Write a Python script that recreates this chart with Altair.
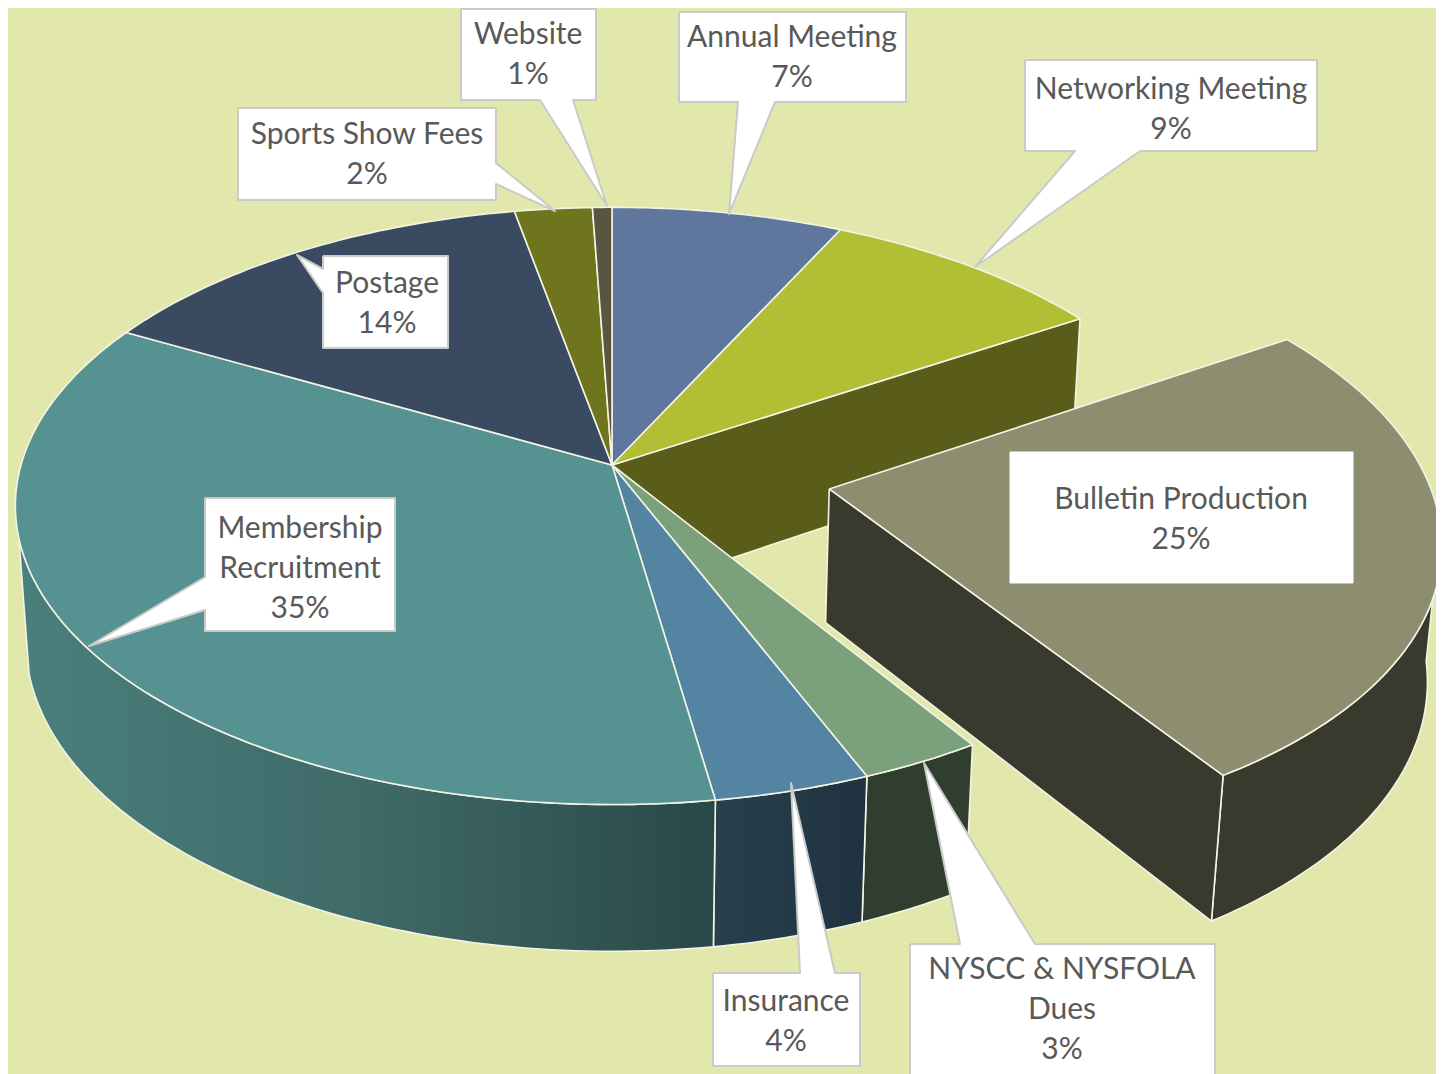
import math
import altair as alt
import pandas as pd

# ---- chart values ----
names = ["Annual Meeting", "Networking Meeting", "Bulletin Production", "NYSCC & NYSFOLA Dues",
         "Insurance", "Membership Recruitment", "Postage", "Sports Show Fees", "Website"]
shares = [7.1, 8.9, 25.0, 2.9, 3.7, 35.4, 14.0, 2.4, 0.6]
percent_labels = ["7%", "9%", "25%", "3%", "4%", "35%", "14%", "2%", "1%"]
pulled_out = [0, 0, 0.37, 0, 0, 0, 0, 0, 0]

# ---- styles ----
top_colors = ["#5F779C", "#B2BE34", "#8D8D70", "#7BA07C", "#5385A3", "#569291", "#3A4A60", "#6F751C", "#5A5540"]
wall_colors = {1: "#5A5C1A", 2: "#3A392E", 3: "#2F3E2E"}
BG = "#E2E8AC"
TEXT = "#595959"
EDGE = "#F2F4E4"

# ---- projection of the tilted pie ----
CX, CY, A, A_LEFT, B, K, M, D = 612, 465, 595, 591, 293, 0.137, 0.017, 135
MEMBERSHIP_WALL_END = 256   # last rim angle of the wall that faces the viewer
BULLETIN_WALL_START = 97    # first rim angle of the wall that faces the viewer


def project(u, v, z=0.0):
    w = 1 + K * v + M * z
    return CX + (A if u >= 0 else A_LEFT) * u / w, CY + (-B * v + D * z) / w


def rim(i, a0, a1, z, steps=None):
    off = pulled_out[i]
    mid = math.radians((angles[i][0] + angles[i][1]) / 2)
    ou, ov = off * math.sin(mid), off * math.cos(mid)
    n = steps or max(2, int(a1 - a0) + 2)
    pts = []
    for s in range(n + 1):
        t = math.radians(a0 + (a1 - a0) * s / n)
        pts.append(project(ou + math.sin(t), ov + math.cos(t), z))
    return pts


def apex(i, z):
    off = pulled_out[i]
    mid = math.radians((angles[i][0] + angles[i][1]) / 2)
    return project(off * math.sin(mid), off * math.cos(mid), z)


X = alt.X("x:Q", scale=alt.Scale(domain=[8, 1436], nice=False, zero=False), axis=None)
Y = alt.Y("y:Q", scale=alt.Scale(domain=[1074, 8], nice=False, zero=False), axis=None)


def poly(pts, fill, stroke=EDGE, sw=1.6):
    pts = list(pts) + [pts[0]]
    df = pd.DataFrame({"x": [p[0] for p in pts], "y": [p[1] for p in pts], "i": range(len(pts))})
    return alt.Chart(df).mark_line(filled=True, fill=fill, stroke=stroke, strokeWidth=sw,
                                   strokeJoin="round", clip=True).encode(
        x=X, y=Y, order=alt.Order("i:Q"))


angles = []
c = 0.0
for s in shares:
    angles.append((c * 3.6, (c + s) * 3.6))
    c += s

layers = []
# inner wall facing the gap left by the pulled-out slice
a1 = angles[1][1]
layers.append(poly([apex(1, 0), rim(1, a1, a1, 0, 1)[0], rim(1, a1, a1, 1, 1)[0], apex(1, 1)], wall_colors[1]))

# outer walls of the main body
a0, a1 = angles[3]
layers.append(poly(rim(3, a0, a1, 0) + rim(3, a0, a1, 1)[::-1], wall_colors[3]))
a0, a1 = angles[4]
layers.append(poly(rim(4, a0, a1, 0) + rim(4, a0, a1, 1)[::-1], alt.Gradient(
    gradient="linear", x1=0, x2=1, y1=0, y2=0,
    stops=[alt.GradientStop(color="#27414F", offset=0), alt.GradientStop(color="#20323F", offset=1)])))
a0 = angles[5][0]
layers.append(poly(rim(5, a0, MEMBERSHIP_WALL_END, 0) + rim(5, a0, MEMBERSHIP_WALL_END, 1)[::-1], alt.Gradient(
    gradient="linear", x1=0, x2=1, y1=0, y2=0,
    stops=[alt.GradientStop(color="#4A7F7C", offset=0),
           alt.GradientStop(color="#3F6A68", offset=0.5),
           alt.GradientStop(color="#294847", offset=1)])))

# pulled-out slice walls
a1 = angles[2][1]
layers.append(poly(rim(2, BULLETIN_WALL_START, a1, 0) + rim(2, BULLETIN_WALL_START, a1, 1)[::-1], wall_colors[2]))
layers.append(poly([apex(2, 0), rim(2, a1, a1, 0, 1)[0], rim(2, a1, a1, 1, 1)[0], apex(2, 1)], wall_colors[2]))

# top faces
for i, (a0, a1) in enumerate(angles):
    layers.append(poly([apex(i, 0)] + rim(i, a0, a1, 0), top_colors[i]))

# ---- callouts (outline with pointer) ----
BORDER = "#C9CBC9"
callouts = [
    [(461, 9), (596, 9), (596, 100), (573, 100), (607, 206), (540, 100), (461, 100)],
    [(679, 12), (906, 12), (906, 102), (775, 102), (729, 214), (738, 102), (679, 102)],
    [(1025, 60), (1317, 60), (1317, 151), (1140, 151), (975, 267), (1075, 151), (1025, 151)],
    [(238, 108), (496, 108), (496, 163), (555, 211), (496, 184), (496, 200), (238, 200)],
    [(323, 256), (448, 256), (448, 348), (323, 348), (323, 293), (297, 255), (323, 269)],
    [(205, 498), (395, 498), (395, 631), (205, 631), (205, 610), (89, 646), (205, 577)],
    [(713, 973), (800, 973), (791, 783), (835, 973), (860, 973), (860, 1066), (713, 1066)],
    [(910, 944), (960, 944), (924, 763), (1035, 944), (1215, 944), (1215, 1090), (910, 1090)],
]
for c_pts in callouts:
    layers.append(poly(c_pts, "#FFFFFF", stroke=BORDER, sw=2))
layers.append(poly([(1010, 452), (1353, 452), (1353, 583), (1010, 583)], "#FFFFFF", stroke="#FFFFFF", sw=1))

# ---- label text ----
label_lines = {
    "Website": ["Website"], "Annual Meeting": ["Annual Meeting"], "Networking Meeting": ["Networking Meeting"],
    "Sports Show Fees": ["Sports Show Fees"], "Postage": ["Postage"], "Bulletin Production": ["Bulletin Production"],
    "Membership Recruitment": ["Membership", "Recruitment"], "Insurance": ["Insurance"],
    "NYSCC & NYSFOLA Dues": ["NYSCC & NYSFOLA", "Dues"],
}
label_anchor = {
    "Website": (528, 35), "Annual Meeting": (792, 38), "Networking Meeting": (1171, 90),
    "Sports Show Fees": (367, 135), "Postage": (387, 284), "Bulletin Production": (1181, 500),
    "Membership Recruitment": (300, 529), "Insurance": (786, 1002), "NYSCC & NYSFOLA Dues": (1062, 970),
}
rows = []
for n, p in zip(names, percent_labels):
    ax, ay = label_anchor[n]
    for j, t in enumerate(label_lines[n] + [p]):
        rows.append({"x": ax, "y": ay + j * 40, "t": t})
text = alt.Chart(pd.DataFrame(rows)).mark_text(
    font="Lato", fontSize=30, color=TEXT, align="center", baseline="middle").encode(x=X, y=Y, text="t:N")
layers.append(text)

chart = alt.layer(*layers).properties(
    width=1428, height=1066, background=BG, padding=0,
    autosize=alt.AutoSizeParams(type="none"),
).configure_view(stroke=None)

chart.save("out.html", embed_options={"renderer": "svg", "actions": False})
